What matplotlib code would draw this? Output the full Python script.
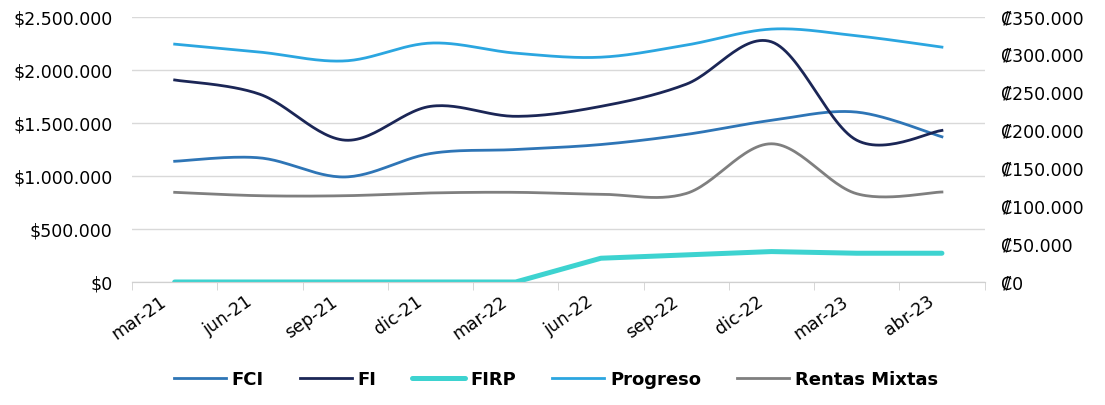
import numpy as np
import matplotlib.pyplot as plt
from matplotlib.transforms import ScaledTranslation
from matplotlib.ticker import FuncFormatter, MultipleLocator, FixedLocator

# Fund values by quarter
periods = ['mar-21', 'jun-21', 'sep-21', 'dic-21', 'mar-22',
           'jun-22', 'sep-22', 'dic-22', 'mar-23', 'abr-23']

fci = [1139000, 1171000, 991000, 1212000, 1250000,
       1297000, 1392000, 1525000, 1603000, 1370000]
fi = [1906000, 1771000, 1338000, 1657000, 1563000,
      1657000, 1866000, 2266000, 1338000, 1430000]
progreso = [2244000, 2169000, 2086000, 2254000, 2159000,
            2121000, 2235000, 2386000, 2323000, 2216000]
rentas_mixtas = [846000, 814000, 814000, 840000, 846000,
                 828000, 835000, 1304000, 833000, 849000]
# FIRP is reported in colones (right axis)
firp = [0, 0, 0, 0, 0, 31400, 35800, 40200, 38000, 38000]


def smooth(y, n=30):
    """Catmull-Rom style bezier through every point, like a smoothed office line."""
    y = np.asarray(y, dtype=float)
    x = np.arange(len(y), dtype=float)
    pts = np.column_stack([x, y])
    out = []
    t = np.linspace(0, 1, n)
    for i in range(len(pts) - 1):
        p0 = pts[max(i - 1, 0)]
        p1 = pts[i]
        p2 = pts[i + 1]
        p3 = pts[min(i + 2, len(pts) - 1)]
        c1 = p1 + (p2 - p0) / 6
        c2 = p2 - (p3 - p1) / 6
        seg = ((1 - t) ** 3)[:, None] * p1 + (3 * (1 - t) ** 2 * t)[:, None] * c1 \
            + (3 * (1 - t) * t ** 2)[:, None] * c2 + (t ** 3)[:, None] * p2
        out.append(seg if i == 0 else seg[1:])
    out = np.vstack(out)
    return out[:, 0], out[:, 1]


def thousands(v):
    return f"{int(round(v)):,}".replace(",", ".")


plt.rcParams['font.family'] = ['DejaVu Sans']

fig = plt.figure(figsize=(11.05, 4.05), dpi=100)
ax = fig.add_axes([0.1195, 0.3037, 0.7715, 0.6543])
ax2 = ax.twinx()

c_fci = '#2E75B6'
c_fi = '#1B2656'
c_firp = '#3DD3D0'
c_prog = '#2BA6E0'
c_rm = '#7F7F7F'

lines = []
xs, ys = smooth(fci)
lines += ax.plot(xs, ys, color=c_fci, lw=2.0, label='FCI')
xs, ys = smooth(fi)
lines += ax.plot(xs, ys, color=c_fi, lw=2.0, label='FI')
lines += ax2.plot(np.arange(len(firp)), firp, color=c_firp, lw=3.6,
                  solid_capstyle='round', label='FIRP')
xs, ys = smooth(progreso)
lines += ax.plot(xs, ys, color=c_prog, lw=2.0, label='Progreso')
xs, ys = smooth(rentas_mixtas)
lines += ax.plot(xs, ys, color=c_rm, lw=2.0, label='Rentas Mixtas')

ax.set_xlim(-0.5, len(periods) - 0.5)
ax.set_ylim(0, 2500000)
ax2.set_ylim(0, 350000)
ax.yaxis.set_major_locator(MultipleLocator(500000))
ax2.yaxis.set_major_locator(MultipleLocator(50000))
ax.yaxis.set_major_formatter(FuncFormatter(lambda v, p: '$' + thousands(v)))
ax2.yaxis.set_major_formatter(FuncFormatter(lambda v, p: '\u20a1' + thousands(v)))

ax.grid(axis='y', color='#D9D9D9', lw=1.0)
ax.set_axisbelow(True)
for a in (ax, ax2):
    for s in ('top', 'left', 'right'):
        a.spines[s].set_visible(False)
    a.spines['bottom'].set_color('#D0D0D0')
ax.tick_params(axis='y', length=0, labelsize=12.5, pad=14)
ax2.tick_params(axis='y', length=0, labelsize=12.5, pad=12)

# category labels centred, tick marks on the boundaries
ax.set_xticks(np.arange(len(periods)))
ax.set_xticklabels(periods, rotation=35, ha='right', va='center',
                   rotation_mode='anchor', fontsize=12.5)
ax.tick_params(axis='x', which='major', length=0, pad=13)
ax.xaxis.set_minor_locator(FixedLocator(np.arange(len(periods) + 1) - 0.5))
ax.tick_params(axis='x', which='minor', length=6, color='#D0D0D0', direction='out')
for lbl in ax.get_xticklabels():
    lbl.set_transform(lbl.get_transform() + ScaledTranslation(-0.1, 0, fig.dpi_scale_trans))

fig.legend(handles=lines, loc='lower center', bbox_to_anchor=(0.503, 0.0),
           ncol=5, frameon=False, handlelength=2.9, handletextpad=0.3,
           columnspacing=2.0, prop={'weight': 'bold', 'size': 13})

fig.savefig('out.png', dpi=100)
